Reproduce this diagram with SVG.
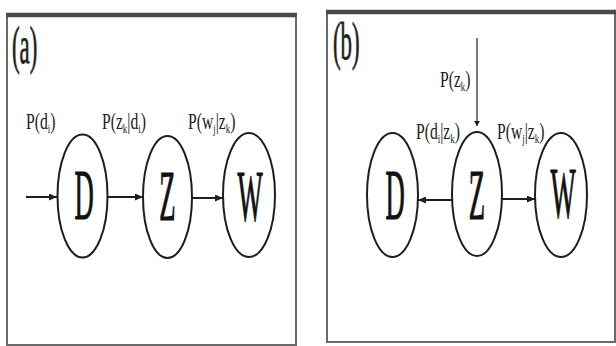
<svg xmlns="http://www.w3.org/2000/svg" width="616" height="346" viewBox="0 0 616 346">
<style>
.frame{fill:#fff;stroke:#6a6a6a;stroke-width:2}
.topbar{stroke:#4a4a4a;stroke-width:4.5}
.node{fill:#fff;stroke:#1e1e1e;stroke-width:2}
.serif{font-family:'Liberation Serif','DejaVu Serif',serif}
.letter{font-size:72px;fill:#111;stroke:#111;stroke-width:1.2;text-anchor:middle}
.panel{font-size:52px;fill:#222;stroke:#222;stroke-width:0.8}
.lbl{font-size:23px;fill:#222}
.sub{font-size:13px}
.edge{stroke:#1e1e1e;stroke-width:2;fill:none}
.thin{stroke:#1e1e1e;stroke-width:1.2;fill:none}
</style>
<defs>
<marker id="ah" markerUnits="userSpaceOnUse" markerWidth="9" markerHeight="7" refX="8" refY="3.5" orient="auto">
<path d="M0,0 L8,3.5 L0,7 z" fill="#1e1e1e"/>
</marker>
<marker id="ahs" markerUnits="userSpaceOnUse" markerWidth="6" markerHeight="8" refX="5" refY="3" orient="auto">
<path d="M0,0 L5,3 L0,6 z" fill="#1e1e1e"/>
</marker>
</defs>
<rect width="616" height="346" fill="#fff"/>
<g id="frame-a">
<rect class="frame" x="7" y="15" width="289" height="330"/>
<line class="topbar" x1="6" y1="15" x2="297" y2="15"/>
<text class="panel serif" transform="translate(12,63) scale(0.44,1)">(a)</text>
</g>
<g id="frame-b">
<rect class="frame" x="327" y="12" width="288" height="330"/>
<line class="topbar" x1="326" y1="12" x2="616" y2="12"/>
<text class="panel serif" transform="translate(333,59) scale(0.44,1)">(b)</text>
</g>
<g id="connectors">
<line class="edge" x1="26" y1="197" x2="57" y2="197" marker-end="url(#ah)"/>
<line class="edge" x1="108" y1="197" x2="143" y2="197" marker-end="url(#ah)"/>
<line class="edge" x1="192" y1="198" x2="223" y2="198" marker-end="url(#ah)"/>
<line class="edge" x1="452" y1="200" x2="418" y2="200" marker-end="url(#ah)"/>
<line class="edge" x1="502" y1="199" x2="535" y2="199" marker-end="url(#ah)"/>
<line class="thin" x1="477" y1="38" x2="477" y2="126" marker-end="url(#ahs)"/>
<text class="lbl serif" transform="translate(26,129) scale(0.68,1)">P(d<tspan class="sub" dy="4">i</tspan><tspan dy="-4">)</tspan></text>
<text class="lbl serif" transform="translate(102,129) scale(0.68,1)">P(z<tspan class="sub" dy="4">k</tspan><tspan dy="-4">|d</tspan><tspan class="sub" dy="4">i</tspan><tspan dy="-4">)</tspan></text>
<text class="lbl serif" transform="translate(188,129) scale(0.68,1)">P(w<tspan class="sub" dy="4">j</tspan><tspan dy="-4">|z</tspan><tspan class="sub" dy="4">k</tspan><tspan dy="-4">)</tspan></text>
<text class="lbl serif" transform="translate(440,87) scale(0.68,1)">P(z<tspan class="sub" dy="4">k</tspan><tspan dy="-4">)</tspan></text>
<text class="lbl serif" transform="translate(416,139) scale(0.68,1)">P(d<tspan class="sub" dy="4">i</tspan><tspan dy="-4">|z</tspan><tspan class="sub" dy="4">k</tspan><tspan dy="-4">)</tspan></text>
<text class="lbl serif" transform="translate(497,139) scale(0.68,1)">P(w<tspan class="sub" dy="4">j</tspan><tspan dy="-4">|z</tspan><tspan class="sub" dy="4">k</tspan><tspan dy="-4">)</tspan></text>
</g>
<g id="a-D"><ellipse class="node" cx="82.5" cy="196" rx="25" ry="61.5"/><text class="letter serif" transform="translate(84,219) scale(0.37,1)">D</text></g>
<g id="a-Z"><ellipse class="node" cx="167.5" cy="197" rx="24.5" ry="61"/><text class="letter serif" transform="translate(167.5,220) scale(0.37,1)">Z</text></g>
<g id="a-W"><ellipse class="node" cx="249" cy="195" rx="26" ry="62"/><text class="letter serif" transform="translate(250,220) scale(0.37,1)">W</text></g>
<g id="b-D"><ellipse class="node" cx="392.5" cy="195" rx="25.5" ry="62"/><text class="letter serif" transform="translate(395,219) scale(0.37,1)">D</text></g>
<g id="b-Z"><ellipse class="node" cx="477" cy="194" rx="25" ry="62"/><text class="letter serif" transform="translate(477,219) scale(0.37,1)">Z</text></g>
<g id="b-W"><ellipse class="node" cx="561" cy="195" rx="26" ry="62"/><text class="letter serif" transform="translate(563,217) scale(0.37,1)">W</text></g>
</svg>
